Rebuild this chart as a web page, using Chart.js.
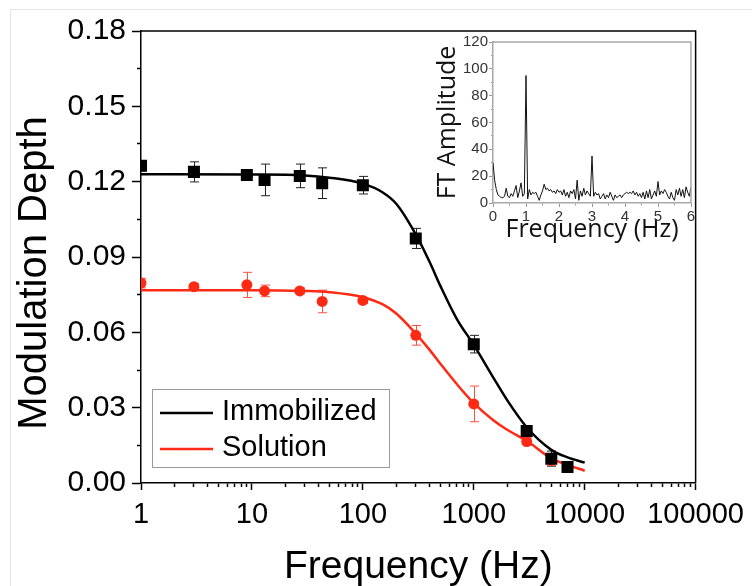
<!DOCTYPE html>
<html lang="en">
<head>
<meta charset="UTF-8">
<title>Modulation depth vs frequency</title>
<style>
  body { margin: 0; background: #fff; }
  #wrap { position: relative; width: 752px; height: 586px; }
  #main { position: absolute; left: 0; top: 0; }
  #inset { position: absolute; left: 420px; top: 20px; }
</style>
</head>
<body>
<div id="wrap">
  <canvas id="main" width="752" height="586"></canvas>
  <canvas id="inset" width="280" height="240"></canvas>
</div>

<script src="https://cdn.jsdelivr.net/npm/chart.js"></script>

<script>
    // measured points (Hz, modulation depth, error)
    const immobFreq = [1, 3, 9, 13, 27, 43, 100, 300, 1000, 3000, 5000, 7000];
    const immobDepth = [0.1263, 0.1239, 0.1227, 0.1207, 0.1223, 0.1194, 0.1186, 0.0974, 0.0553, 0.0207, 0.0097, 0.0064];
    const immobErr = [0.002, 0.004, 0.001, 0.0063, 0.0047, 0.0061, 0.0035, 0.004, 0.0035, 0.0015, 0.003, 0.0012];

    const solFreq = [1, 3, 9, 13, 27, 43, 100, 300, 1000, 3000, 5000];
    const solDepth = [0.0796, 0.0782, 0.0789, 0.0765, 0.0765, 0.0723, 0.0727, 0.0588, 0.0315, 0.0165, 0.0092];
    const solErr = [0.0019, 0.0012, 0.005, 0.0023, 0.0012, 0.0045, 0.0012, 0.0039, 0.0071, 0.0015, 0.0022];

    // fitted curves
    const fitFreq = [1, 10, 30, 50, 100, 150, 200, 300, 400, 500, 700, 1000, 1500, 2000, 3000, 5000, 7000, 10000];
    const immobFit = [0.1230, 0.1229, 0.1225, 0.1216, 0.1192, 0.1158, 0.1112, 0.0990, 0.0880, 0.0785, 0.0655, 0.0550, 0.0420, 0.0330, 0.0222, 0.0132, 0.0102, 0.0081];
    const solFit = [0.0768, 0.0768, 0.0765, 0.0760, 0.0740, 0.0712, 0.0675, 0.0595, 0.0530, 0.0475, 0.0395, 0.0318, 0.0250, 0.0212, 0.0168, 0.0098, 0.0072, 0.0049];

    // axis ticks
    const yMajor = [0.00, 0.03, 0.06, 0.09, 0.12, 0.15, 0.18];
    const xMajor = [1, 10, 100, 1000, 10000, 100000];

    // inset: FT spectrum, one value every ftStep Hz from 0 to 6
    const ftStep = 0.05;
    const ftAmp = [
        30, 17, 10, 6, 5, 4, 4, 5, 11, 5, 4, 7, 5, 9, 13, 4, 9, 15, 5, 7,
        95, 3, 10, 6, 8, 7, 8, 5, 2, 6, 9, 14, 10, 11, 9, 10, 8, 9, 7, 10,
        8, 9, 6, 10, 5, 8, 4, 9, 7, 10, 3, 17, 2, 9, 5, 11, 6, 9, 7, 5,
        35, 5, 8, 6, 7, 3, 5, 7, 3, 6, 4, 8, 5, 2, 6, 4, 5, 6, 4, 6,
        7, 8, 7, 8, 7, 9, 6, 8, 5, 7, 4, 8, 3, 9, 4, 10, 3, 6, 9, 5,
        16, 6, 9, 7, 10, 8, 5, 3, 8, 4, 2, 10, 6, 11, 5, 10, 4, 12, 8, 5,
        12
    ];
    const insetYMajor = [0, 20, 40, 60, 80, 100, 120];
    const insetXMajor = [0, 1, 2, 3, 4, 5, 6];

    const RED = '#ff2a14';
    const FONT = '"Liberation Sans", Arial, sans-serif';

    const near = (list, v) => list.some(m => Math.abs(m - v) < 1e-9);

    const yTicksAll = [];
    yMajor.forEach((v, i) => {
        yTicksAll.push(v);
        if (i < yMajor.length - 1) yTicksAll.push((v + yMajor[i + 1]) / 2);
    });
    const xTicksAll = [];
    xMajor.forEach(d => {
        if (d === xMajor[xMajor.length - 1]) { xTicksAll.push(d); return; }
        for (let m = 1; m <= 9; m++) xTicksAll.push(m * d);
    });
    const insetYAll = [];
    insetYMajor.forEach((v, i) => {
        insetYAll.push(v);
        if (i < insetYMajor.length - 1) insetYAll.push((v + insetYMajor[i + 1]) / 2);
    });
    const insetXAll = [];
    insetXMajor.forEach((v, i) => {
        insetXAll.push(v);
        if (i < insetXMajor.length - 1) insetXAll.push((v + insetXMajor[i + 1]) / 2);
    });

    const pairs = (xs, ys) => xs.map((x, i) => ({x: x, y: ys[i]}));

    const errorBars = {
        id: 'errorBars',
        beforeDatasetsDraw(chart) {
            const {ctx, chartArea, scales} = chart;
            ctx.save();
            ctx.beginPath();
            ctx.rect(chartArea.left, chartArea.top, chartArea.width, chartArea.height);
            ctx.clip();
            chart.data.datasets.forEach(ds => {
                if (!ds.errors) return;
                ctx.strokeStyle = ds.errorColor;
                ctx.lineWidth = 1;
                ds.data.forEach((p, i) => {
                    const px = Math.round(scales.x.getPixelForValue(p.x)) + 0.5;
                    const top = scales.y.getPixelForValue(p.y + ds.errors[i]);
                    const bot = scales.y.getPixelForValue(p.y - ds.errors[i]);
                    ctx.beginPath();
                    ctx.moveTo(px, top); ctx.lineTo(px, bot);
                    ctx.moveTo(px - 4.5, top); ctx.lineTo(px + 4.5, top);
                    ctx.moveTo(px - 4.5, bot); ctx.lineTo(px + 4.5, bot);
                    ctx.stroke();
                });
            });
            ctx.restore();
        }
    };

    // faint page border seen in the original figure
    const pageEdge = {
        id: 'pageEdge',
        beforeDraw(chart) {
            const ctx = chart.ctx;
            ctx.save();
            ctx.strokeStyle = '#e4e4e4';
            ctx.lineWidth = 1;
            ctx.beginPath();
            ctx.moveTo(10.5, 586);
            ctx.lineTo(10.5, 9.5);
            ctx.lineTo(752, 9.5);
            ctx.stroke();
            ctx.restore();
        }
    };

    const frameAndLegend = {
        id: 'frameAndLegend',
        afterDraw(chart) {
            const {ctx, chartArea} = chart;
            ctx.save();
            ctx.strokeStyle = '#000';
            ctx.lineWidth = 1.5;
            ctx.beginPath();
            ctx.moveTo(chartArea.left, chartArea.top);
            ctx.lineTo(chartArea.right, chartArea.top);
            ctx.lineTo(chartArea.right, chartArea.bottom);
            ctx.stroke();

            // y axis title
            ctx.save();
            ctx.translate(35, 273);
            ctx.rotate(-Math.PI / 2);
            ctx.fillStyle = '#000';
            ctx.font = '40px ' + FONT;
            ctx.textAlign = 'center';
            ctx.textBaseline = 'middle';
            ctx.fillText('Modulation Depth', 0, 0);
            ctx.restore();

            // legend box
            ctx.strokeStyle = '#9a9a9a';
            ctx.lineWidth = 1;
            ctx.strokeRect(152.5, 389.5, 237, 78);
            const items = chart.data.datasets.filter(d => d.inLegend);
            items.forEach((d, i) => {
                const yy = 413 + i * 36;
                ctx.strokeStyle = d.borderColor;
                ctx.lineWidth = 2.5;
                ctx.beginPath();
                ctx.moveTo(160, yy);
                ctx.lineTo(213, yy);
                ctx.stroke();
                ctx.fillStyle = '#000';
                ctx.font = '29px ' + FONT;
                ctx.textBaseline = 'middle';
                ctx.fillText(d.label, 222, yy - 1);
            });
            ctx.restore();
        }
    };

    new Chart(document.getElementById('main'), {
        type: 'scatter',
        data: {
            datasets: [
                {
                    label: 'Immobilized data',
                    data: pairs(immobFreq, immobDepth),
                    pointStyle: 'rect',
                    pointRadius: 8.5,
                    backgroundColor: '#000',
                    borderColor: '#000',
                    borderWidth: 0,
                    errors: immobErr,
                    errorColor: '#222',
                    clip: 0
                },
                {
                    label: 'Solution data',
                    data: pairs(solFreq, solDepth),
                    pointStyle: 'circle',
                    pointRadius: 5.5,
                    backgroundColor: RED,
                    borderColor: RED,
                    borderWidth: 0,
                    errors: solErr,
                    errorColor: '#ff5040',
                    clip: 0
                },
                {
                    label: 'Immobilized',
                    data: pairs(fitFreq, immobFit),
                    showLine: true,
                    borderColor: '#000',
                    borderWidth: 2.5,
                    pointRadius: 0,
                    cubicInterpolationMode: 'monotone',
                    inLegend: true
                },
                {
                    label: 'Solution',
                    data: pairs(fitFreq, solFit),
                    showLine: true,
                    borderColor: RED,
                    borderWidth: 2.5,
                    pointRadius: 0,
                    cubicInterpolationMode: 'monotone',
                    inLegend: true
                }
            ]
        },
        options: {
            responsive: false,
            animation: false,
            devicePixelRatio: 1,
            layout: {padding: {left: 0, right: 54, top: 31, bottom: 0}},
            plugins: {legend: {display: false}, tooltip: {enabled: false}},
            scales: {
                x: {
                    type: 'logarithmic',
                    min: 1,
                    max: 100000,
                    afterFit: s => { s.height = 103; },
                    afterBuildTicks: s => { s.ticks = xTicksAll.map(v => ({value: v})); },
                    ticks: {
                        autoSkip: false,
                        maxRotation: 0,
                        callback: v => near(xMajor, v) ? String(v) : '',
                        font: {family: FONT, size: 29},
                        color: '#000',
                        padding: 8
                    },
                    grid: {
                        drawOnChartArea: false,
                        tickLength: 7,
                        tickColor: '#000',
                        tickWidth: 1.5,
                        tickBorderDash: c => (c.tick && !near(xMajor, c.tick.value)) ? [3.5, 100] : []
                    },
                    border: {display: true, color: '#000', width: 1.5},
                    title: {
                        display: true,
                        text: 'Frequency (Hz)',
                        font: {family: FONT, size: 39},
                        color: '#000',
                        padding: {top: 0, bottom: -5}
                    }
                },
                y: {
                    min: 0,
                    max: 0.18,
                    afterFit: s => { s.width = 141; },
                    afterBuildTicks: s => { s.ticks = yTicksAll.map(v => ({value: v})); },
                    ticks: {
                        autoSkip: false,
                        callback: v => near(yMajor, v) ? v.toFixed(2) : '',
                        font: {family: FONT, size: 30},
                        color: '#000',
                        padding: 6
                    },
                    grid: {
                        drawOnChartArea: false,
                        tickLength: 9,
                        tickColor: '#000',
                        tickWidth: 1.5,
                        tickBorderDash: c => (c.tick && !near(yMajor, c.tick.value)) ? [0, 5, 4, 100] : []
                    },
                    border: {display: true, color: '#000', width: 1.5}
                }
            }
        },
        plugins: [pageEdge, errorBars, frameAndLegend]
    });

    const insetFrame = {
        id: 'insetFrame',
        afterDraw(chart) {
            const {ctx, chartArea} = chart;
            ctx.save();
            ctx.strokeStyle = '#a8a8a8';
            ctx.lineWidth = 1.5;
            ctx.beginPath();
            ctx.moveTo(chartArea.left, chartArea.top);
            ctx.lineTo(chartArea.right, chartArea.top);
            ctx.lineTo(chartArea.right, chartArea.bottom);
            ctx.stroke();
            ctx.restore();
        }
    };

    new Chart(document.getElementById('inset'), {
        type: 'line',
        data: {
            datasets: [{
                label: 'FT Amplitude',
                data: ftAmp.map((a, i) => ({x: i * ftStep, y: a})),
                borderColor: '#111',
                borderWidth: 1,
                pointRadius: 0,
                tension: 0
            }]
        },
        options: {
            responsive: false,
            animation: false,
            devicePixelRatio: 1,
            layout: {padding: {left: 0, right: 9, top: 22, bottom: 0}},
            plugins: {legend: {display: false}, tooltip: {enabled: false}},
            scales: {
                x: {
                    type: 'linear',
                    min: 0,
                    max: 6,
                    afterFit: s => { s.height = 57; },
                    afterBuildTicks: s => { s.ticks = insetXAll.map(v => ({value: v})); },
                    ticks: {
                        autoSkip: false,
                        maxRotation: 0,
                        callback: v => near(insetXMajor, v) ? String(v) : '',
                        font: {family: FONT, size: 15},
                        color: '#333',
                        padding: 1
                    },
                    grid: {
                        drawOnChartArea: false,
                        tickLength: 4,
                        tickColor: '#999',
                        tickBorderDash: c => (c.tick && !near(insetXMajor, c.tick.value)) ? [2, 100] : []
                    },
                    border: {display: true, color: '#a8a8a8', width: 1.5},
                    title: {
                        display: true,
                        text: 'Frequency (Hz)',
                        font: {family: '"Open Sans", sans-serif', size: 25},
                        color: '#111',
                        padding: {top: 0, bottom: 15}
                    }
                },
                y: {
                    min: 0,
                    max: 120,
                    afterFit: s => { s.width = 73; },
                    afterBuildTicks: s => { s.ticks = insetYAll.map(v => ({value: v})); },
                    ticks: {
                        autoSkip: false,
                        callback: v => near(insetYMajor, v) ? String(v) : '',
                        font: {family: FONT, size: 15},
                        color: '#333',
                        padding: 1
                    },
                    grid: {
                        drawOnChartArea: false,
                        tickLength: 4,
                        tickColor: '#999',
                        tickBorderDash: c => (c.tick && !near(insetYMajor, c.tick.value)) ? [0, 2, 2, 100] : []
                    },
                    border: {display: true, color: '#a8a8a8', width: 1.5},
                    title: {
                        display: true,
                        text: 'FT Amplitude',
                        font: {family: '"Open Sans", sans-serif', size: 25},
                        color: '#111',
                        padding: {top: 13, bottom: 0}
                    }
                }
            }
        },
        plugins: [insetFrame]
    });
</script>
</body>
</html>
